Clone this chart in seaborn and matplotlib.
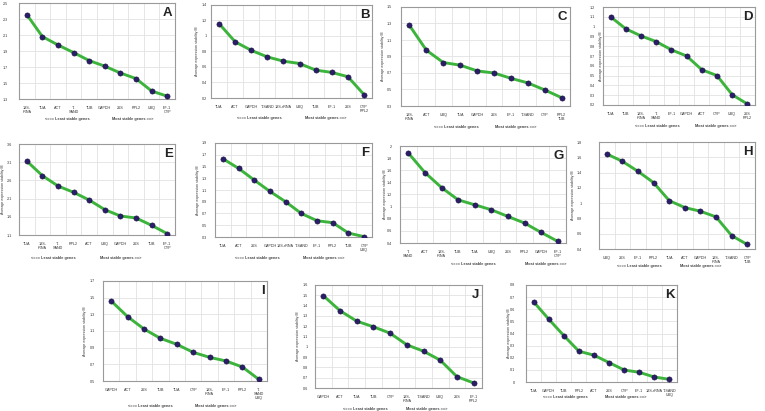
import numpy as np
import pandas as pd
import matplotlib
matplotlib.use("Agg")
import matplotlib.pyplot as plt
import seaborn as sns

# genes ordered from least stable to most stable, average expression stability M
genes_a = ["18S-\nrRNA", "TUA", "ACT", "T-\nSAND", "TUB", "GAPDH", "26S", "RPL2", "UBQ", "EF-1\nCYP"]
m_a = [2.355, 2.08, 1.975, 1.88, 1.78, 1.71, 1.625, 1.555, 1.40, 1.335]

genes_b = ["TUA", "ACT", "GAPDH", "T-SAND", "18S-rRNA", "UBQ", "TUB", "EF-1", "26S", "CYP\nRPL2"]
m_b = [1.16, 0.925, 0.815, 0.73, 0.675, 0.645, 0.56, 0.53, 0.475, 0.245]

genes_c = ["18S-\nrRNA", "ACT", "UBQ", "TUA", "GAPDH", "26S", "EF-1", "T-SAND", "CYP", "RPL2\nTUB"]
m_c = [1.277, 0.977, 0.827, 0.795, 0.726, 0.70, 0.636, 0.58, 0.495, 0.401]

genes_d = ["TUA", "TUB", "18S-\nrRNA", "T-\nSAND", "EF-1", "GAPDH", "ACT", "CYP", "UBQ", "26S\nRPL2"]
m_d = [1.10, 0.977, 0.905, 0.847, 0.763, 0.70, 0.56, 0.50, 0.305, 0.21]

genes_e = ["TUA", "18S-\nrRNA", "T-\nSAND", "RPL2", "ACT", "UBQ", "GAPDH", "26S", "TUB", "EF-1\nCYP"]
m_e = [3.13, 2.73, 2.446, 2.272, 2.06, 1.796, 1.622, 1.567, 1.366, 1.137]

genes_f = ["TUA", "ACT", "26S", "GAPDH", "18S-rRNA", "T-SAND", "EF-1", "RPL2", "TUB", "CYP\nUBQ"]
m_f = [1.633, 1.468, 1.269, 1.076, 0.90, 0.70, 0.577, 0.543, 0.367, 0.305]

genes_g = ["T-\nSAND", "ACT", "18S-\nrRNA", "TUB", "TUA", "UBQ", "26S", "RPL2", "GAPDH", "EF-1\nCYP"]
m_g = [1.885, 1.562, 1.315, 1.112, 1.03, 0.948, 0.838, 0.729, 0.575, 0.427]

genes_h = ["UBQ", "26S", "EF-1", "RPL2", "TUA", "ACT", "GAPDH", "18S-\nrRNA", "T-SAND", "CYP\nTUB"]
m_h = [1.643, 1.547, 1.416, 1.268, 1.033, 0.942, 0.894, 0.82, 0.576, 0.459]

genes_i = ["GAPDH", "ACT", "26S", "TUB", "TUA", "CYP", "18S-\nrRNA", "EF-1", "RPL2", "T-\nSAND\nUBQ"]
m_i = [1.46, 1.272, 1.124, 1.012, 0.94, 0.844, 0.784, 0.74, 0.668, 0.52]

genes_j = ["GAPDH", "ACT", "TUA", "TUB", "CYP", "18S-\nrRNA", "T-SAND", "UBQ", "26S", "EF-1\nRPL2"]
m_j = [1.496, 1.35, 1.249, 1.194, 1.132, 1.019, 0.957, 0.87, 0.71, 0.649]

genes_k = ["TUA", "GAPDH", "TUB", "RPL2", "ACT", "26S", "CYP", "EF-1", "18S-rRNA", "T-SAND\nUBQ"]
m_k = [0.662, 0.519, 0.383, 0.254, 0.221, 0.16, 0.099, 0.08, 0.041, 0.022]

# y-axis range and step for each panel
yaxis_a = (1.3, 2.5, 0.2)
yaxis_b = (0.2, 1.4, 0.2)
yaxis_c = (0.3, 1.5, 0.2)
yaxis_d = (0.2, 1.2, 0.1)
yaxis_e = (1.1, 3.6, 0.5)
yaxis_f = (0.3, 1.9, 0.2)
yaxis_g = (0.4, 2.0, 0.2)
yaxis_h = (0.4, 1.8, 0.2)
yaxis_i = (0.5, 1.7, 0.2)
yaxis_j = (0.6, 1.6, 0.1)
yaxis_k = (0.0, 0.8, 0.1)

W, H = 765, 411
LINE_GREEN = "#3cb43c"
DOT_NAVY = "#2c1d6b"
GRID = "#e2e2e2"
FONT = ["Liberation Sans", "DejaVu Sans"]


def draw_panel(fig, box, genes, values, yaxis, letter, lab, note_x, note_gap):
    """Draw one stability panel.

    box is (left, top, right, bottom) in pixels, lab is (tick pad px, ylabel offset px or None).
    """
    left, top, right, bottom = box
    ax = fig.add_axes([left / W, 1 - bottom / H, (right - left) / W, (bottom - top) / H])

    df = pd.DataFrame({"pos": np.arange(len(genes)), "gene": genes, "M": values})
    sns.lineplot(data=df, x="pos", y="M", ax=ax, color=LINE_GREEN, linewidth=2.1, zorder=2)
    sns.scatterplot(data=df, x="pos", y="M", ax=ax, color=DOT_NAVY, s=14,
                    edgecolor="#1a1040", linewidth=0.4, zorder=3)

    lo, hi, step = yaxis
    ticks = np.round(np.arange(lo, hi + step / 2, step), 3)
    ax.set_ylim(lo, hi)
    ax.set_yticks(ticks)
    ax.set_yticklabels([f"{t:g}" for t in ticks])
    ax.set_xlim(-0.5, len(genes) - 0.5)
    ax.set_xticks(df["pos"])
    ax.set_xticklabels(genes, linespacing=0.95)
    ax.set_xticks(np.arange(-0.5, len(genes)), minor=True)

    ax.grid(False)
    ax.grid(True, which="minor", axis="x", color=GRID, linewidth=0.6)
    ax.grid(True, which="major", axis="y", color=GRID, linewidth=0.6)
    ax.set_axisbelow(True)
    tick_pad, ylab_off = lab
    ax.tick_params(axis="x", which="major", labelsize=2.7, length=0, pad=5,
                   labelcolor="#333333")
    ax.tick_params(axis="y", which="major", labelsize=2.7, length=0, pad=tick_pad * 0.72,
                   labelcolor="#333333")
    ax.tick_params(axis="x", which="minor", length=1.5, color="#999999", width=0.5)
    for side in ax.spines.values():
        side.set_color("#9a9a9a")
        side.set_linewidth(0.8)

    ax.set_xlabel("")
    ax.set_ylabel("")
    if ylab_off is not None:
        ax.text(-ylab_off / (right - left), 0.5, "Average expression stability M",
                transform=ax.transAxes, rotation=90, fontsize=2.6, color="#333333",
                ha="center", va="center")

    ax.text(0.985, 0.96, letter, transform=ax.transAxes, ha="right", va="top",
            fontsize=9.5, fontweight="bold", color="#222222")

    gap = -note_gap / (bottom - top)
    ax.text(note_x[0], gap, "<=== Least stable genes", transform=ax.transAxes,
            ha="center", va="center", fontsize=2.8, fontweight="bold", color="#444444")
    ax.text(note_x[1], gap, "Most stable genes ==>", transform=ax.transAxes,
            ha="center", va="center", fontsize=2.8, fontweight="bold", color="#444444")
    return ax


sns.set_theme(style="white")
plt.rcParams["font.family"] = FONT

fig = plt.figure(figsize=(W / 100, H / 100), dpi=100)
fig.patch.set_facecolor("white")

draw_panel(fig, (19, 3, 175, 99), genes_a, m_a, yaxis_a, "A", (11, None), (0.31, 0.73), 20)
draw_panel(fig, (211, 5, 372, 98), genes_b, m_b, yaxis_b, "B", (4, 14), (0.30, 0.71), 20)
draw_panel(fig, (401, 7, 570, 106), genes_c, m_c, yaxis_c, "C", (9, 18), (0.33, 0.68), 21)
draw_panel(fig, (603, 7, 755, 105), genes_d, m_d, yaxis_d, "D", (8, 2), (0.36, 0.74), 21)
draw_panel(fig, (19, 144, 175, 235), genes_e, m_e, yaxis_e, "E", (7, 16), (0.22, 0.65), 23)
draw_panel(fig, (215, 143, 372, 237), genes_f, m_f, yaxis_f, "F", (8, 17), (0.27, 0.69), 21)
draw_panel(fig, (400, 146, 566, 243), genes_g, m_g, yaxis_g, "G", (8, 15), (0.44, 0.88), 21)
draw_panel(fig, (599, 142, 755, 249), genes_h, m_h, yaxis_h, "H", (17, 26), (0.26, 0.65), 17)
draw_panel(fig, (103, 281, 267, 381), genes_i, m_i, yaxis_i, "I", (8, 18), (0.29, 0.69), 25)
draw_panel(fig, (315, 285, 482, 388), genes_j, m_j, yaxis_j, "J", (7, 17), (0.30, 0.67), 21)
draw_panel(fig, (526, 285, 677, 382), genes_k, m_k, yaxis_k, "K", (11, 17), (0.26, 0.66), 15)

fig.savefig("out.png", dpi=100, facecolor="white")
